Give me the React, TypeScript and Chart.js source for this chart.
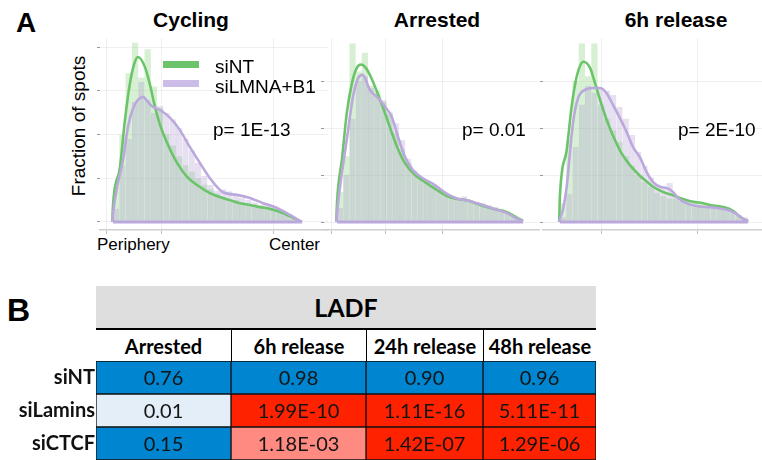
import React, { useEffect, useRef } from "react";
import { Chart, registerables } from "chart.js";
Chart.register(...registerables);

// ---------------- Panel A data ----------------
const seriesNames = ["siNT", "siLMNA+B1"];
const panelTitles = ["Cycling", "Arrested", "6h release"];
const panelPValues = ["p= 1E-13", "p= 0.01", "p= 2E-10"];
const xAxisLabels = ["Periphery", "Center"];
const yAxisTitle = "Fraction of spots";

// histogram bar heights (30 radial bins, periphery -> center)
const cyclingSiNTBars = [0.8, 2.0, 3.4, 4.1, 3.3, 3.95, 3.1, 2.6, 2.0, 1.75, 1.5, 1.3, 1.15, 1.0, 0.85, 0.75, 0.65, 0.58, 0.52, 0.5, 0.45, 0.42, 0.4, 0.36, 0.3, 0.28, 0.22, 0.15, 0.1, 0.05];
const cyclingSiLMNABars = [0.3, 1.3, 1.9, 2.75, 3.2, 2.8, 2.5, 2.65, 2.5, 2.35, 2.15, 1.9, 1.65, 1.35, 1.05, 0.85, 0.72, 0.75, 0.7, 0.6, 0.55, 0.5, 0.45, 0.4, 0.42, 0.35, 0.3, 0.2, 0.12, 0.05];
const arrestedSiNTBars = [0.64, 1.4, 3.8, 3.2, 3.6, 2.9, 2.8, 2.55, 2.3, 1.9, 1.55, 1.25, 1.05, 0.95, 0.85, 0.78, 0.68, 0.6, 0.52, 0.5, 0.47, 0.45, 0.42, 0.4, 0.36, 0.32, 0.28, 0.22, 0.15, 0.08];
const arrestedSiLMNABars = [0.3, 1.0, 2.2, 3.0, 3.1, 2.85, 2.7, 2.6, 2.35, 2.1, 1.75, 1.35, 1.1, 0.95, 0.85, 0.78, 0.7, 0.55, 0.5, 0.48, 0.55, 0.45, 0.42, 0.38, 0.33, 0.28, 0.25, 0.2, 0.13, 0.07];
const releaseSiNTBars = [0.4, 1.75, 3.0, 3.8, 3.1, 3.8, 2.5, 2.2, 1.95, 1.7, 1.4, 1.2, 1.0, 0.85, 0.75, 0.62, 0.55, 0.5, 0.5, 0.45, 0.42, 0.4, 0.4, 0.38, 0.35, 0.32, 0.28, 0.22, 0.12, 0.05];
const releaseSiLMNABars = [0.1, 0.6, 1.6, 2.5, 2.9, 2.75, 2.85, 2.8, 2.7, 2.45, 2.2, 1.85, 1.5, 1.2, 0.95, 0.8, 0.72, 0.83, 0.55, 0.45, 0.38, 0.35, 0.33, 0.33, 0.32, 0.28, 0.25, 0.2, 0.15, 0.1];

// density curves
const cyclingSiNTCurveX = [0, 0.037, 0.063, 0.09, 0.111, 0.132, 0.169, 0.196, 0.222, 0.249, 0.286, 0.339, 0.392, 0.46, 0.513, 0.566, 0.619, 0.672, 0.725, 0.778, 0.831, 0.884, 0.937, 1];
const cyclingSiNTCurveY = [0.39, 1.26, 2.33, 3.18, 3.6, 3.77, 3.54, 3.13, 2.63, 2.22, 1.81, 1.35, 1.03, 0.8, 0.66, 0.57, 0.5, 0.43, 0.39, 0.34, 0.3, 0.23, 0.13, 0];
const cyclingSiLMNACurveX = [0, 0.026, 0.053, 0.079, 0.106, 0.132, 0.159, 0.185, 0.212, 0.249, 0.302, 0.354, 0.407, 0.46, 0.513, 0.582, 0.656, 0.725, 0.794, 0.868, 0.937, 1];
const cyclingSiLMNACurveY = [0.2, 0.89, 1.42, 2.17, 2.6, 2.79, 2.86, 2.74, 2.63, 2.56, 2.38, 2.1, 1.71, 1.35, 1.0, 0.68, 0.62, 0.55, 0.43, 0.32, 0.16, 0];

const arrestedSiNTCurveX = [0, 0.027, 0.052, 0.08, 0.105, 0.13, 0.155, 0.18, 0.218, 0.255, 0.29, 0.328, 0.366, 0.419, 0.473, 0.538, 0.591, 0.645, 0.699, 0.753, 0.806, 0.86, 0.914, 0.959, 1];
const arrestedSiNTCurveY = [0.42, 1.35, 2.3, 2.95, 3.27, 3.35, 3.28, 3.1, 2.74, 2.35, 1.95, 1.55, 1.25, 1.0, 0.85, 0.68, 0.55, 0.49, 0.46, 0.39, 0.32, 0.26, 0.21, 0.11, 0.02];
const arrestedSiLMNACurveX = [0, 0.016, 0.052, 0.086, 0.113, 0.138, 0.177, 0.22, 0.258, 0.294, 0.328, 0.366, 0.409, 0.462, 0.52, 0.591, 0.645, 0.699, 0.753, 0.806, 0.86, 0.914, 0.968, 1];
const arrestedSiLMNACurveY = [0.18, 0.75, 1.74, 2.67, 3.06, 3.13, 2.81, 2.64, 2.45, 2.24, 1.81, 1.38, 1.1, 0.93, 0.8, 0.6, 0.5, 0.46, 0.4, 0.33, 0.26, 0.19, 0.07, 0.02];

const releaseSiNTCurveX = [0, 0.036, 0.062, 0.089, 0.124, 0.16, 0.186, 0.222, 0.255, 0.293, 0.328, 0.372, 0.426, 0.461, 0.495, 0.548, 0.601, 0.654, 0.707, 0.761, 0.814, 0.867, 0.92, 0.957, 0.984, 1];
const releaseSiNTCurveY = [0.55, 1.53, 2.45, 3.09, 3.41, 3.28, 2.96, 2.49, 2.1, 1.74, 1.46, 1.21, 0.98, 0.86, 0.75, 0.64, 0.57, 0.49, 0.43, 0.4, 0.35, 0.32, 0.24, 0.11, 0.04, 0];
const releaseSiLMNACurveX = [0, 0.016, 0.036, 0.053, 0.069, 0.096, 0.133, 0.176, 0.213, 0.248, 0.282, 0.319, 0.355, 0.388, 0.426, 0.461, 0.495, 0.532, 0.568, 0.601, 0.628, 0.674, 0.727, 0.78, 0.834, 0.887, 0.931, 0.966, 1];
const releaseSiLMNACurveY = [0.07, 0.26, 0.75, 1.46, 2.1, 2.63, 2.81, 2.85, 2.85, 2.74, 2.49, 2.21, 1.91, 1.6, 1.37, 1.06, 0.85, 0.75, 0.72, 0.64, 0.51, 0.4, 0.34, 0.32, 0.3, 0.26, 0.19, 0.09, 0.02];

// ---------------- Panel B data ----------------
const tableTitle = "LADF";
const tableColumns = ["Arrested", "6h release", "24h release", "48h release"];
const tableRows = ["siNT", "siLamins", "siCTCF"];
const siNTPValues = [0.76, 0.98, 0.9, 0.96];
const siLaminsPValues = [0.01, 1.99e-10, 1.11e-16, 5.11e-11];
const siCTCFPValues = [0.15, 1.18e-3, 1.42e-7, 1.29e-6];

// ---------------- styling / layout ----------------
const ARIAL = '"Liberation Sans", Arial, Helvetica, sans-serif';
const LATO = 'Lato, "Noto Sans", sans-serif';
const GREEN_LINE = "#6cc46a";
const PURPLE_LINE = "#bba8dd";
const GREEN_FILL = "rgba(112,202,98,0.28)";
const PURPLE_FILL = "rgba(172,152,205,0.30)";
const PURPLE_EDGE = "rgba(170,150,212,0.35)";
const GRID = "rgba(0,0,0,0.06)";

const PANEL_TOP = 38;
const PANEL_H = 196;
const tableColumnWidths = [135, 135, 117, 113];

const panels = [
  {
    title: panelTitles[0], p: panelPValues[0], titleX: 191, pX: 213,
    green: cyclingSiNTBars, purple: cyclingSiLMNABars,
    gx: cyclingSiNTCurveX, gy: cyclingSiNTCurveY, px: cyclingSiLMNACurveX, py: cyclingSiLMNACurveY,
    left: 97, width: 231, xMin: -0.069, xMax: 1.138, xTicks: [-0.037, 0.259, 0.852],
    yMin: -0.183, yMax: 4.206, yTicks: [0, 1, 2, 3, 4],
  },
  {
    title: panelTitles[1], p: panelPValues[1], titleX: 437, pX: 462,
    green: arrestedSiNTBars, purple: arrestedSiLMNABars,
    gx: arrestedSiNTCurveX, gy: arrestedSiNTCurveY, px: arrestedSiLMNACurveX, py: arrestedSiLMNACurveY,
    left: 321, width: 219, xMin: -0.07, xMax: 1.091, xTicks: [-0.032, 0.263, 0.565],
    yMin: -0.17, yMax: 3.915, yTicks: [0, 1, 2, 3],
  },
  {
    title: panelTitles[2], p: panelPValues[2], titleX: 676, pX: 678,
    green: releaseSiNTBars, purple: releaseSiLMNABars,
    gx: releaseSiNTCurveX, gy: releaseSiNTCurveY, px: releaseSiLMNACurveX, py: releaseSiLMNACurveY,
    left: 540, width: 222, xMin: -0.09, xMax: 1.074, xTicks: [0.223, 0.729],
    yMin: -0.17, yMax: 3.915, yTicks: [0, 1, 2, 3],
  },
];

function barPoints(vals: number[]) {
  return vals.map((v, i) => ({ x: (i + 0.5) / vals.length, y: v }));
}
function curvePoints(xs: number[], ys: number[]) {
  const pts = xs.map((x, i) => ({ x, y: ys[i] }));
  return [{ x: xs[0] - 0.004, y: 0 }, ...pts];
}

function HistPanel({ cfg }: { cfg: any }) {
  const ref = useRef<HTMLCanvasElement>(null);
  useEffect(() => {
    const chart = new Chart(ref.current as HTMLCanvasElement, {
      type: "bar",
      data: {
        datasets: [
          {
            type: "line", label: seriesNames[1], data: curvePoints(cfg.px, cfg.py),
            borderColor: PURPLE_LINE, borderWidth: 2.6, pointRadius: 0, fill: false,
            cubicInterpolationMode: "monotone", order: 0,
          } as any,
          {
            type: "line", label: "baseline", data: [{ x: 0, y: 0 }, { x: 1, y: 0 }],
            borderColor: PURPLE_LINE, borderWidth: 3, pointRadius: 0, fill: false, order: 0,
          } as any,
          {
            type: "line", label: seriesNames[0], data: curvePoints(cfg.gx, cfg.gy),
            borderColor: GREEN_LINE, borderWidth: 2.6, pointRadius: 0, fill: false,
            cubicInterpolationMode: "monotone", order: 1,
          } as any,
          {
            type: "bar", label: seriesNames[1] + " bins", data: barPoints(cfg.purple),
            backgroundColor: PURPLE_FILL, borderColor: PURPLE_EDGE,
            borderWidth: { left: 1, right: 0, top: 0, bottom: 0 }, borderSkipped: false,
            inflateAmount: 0,
            grouped: false, barPercentage: 1, categoryPercentage: 1, order: 2,
          } as any,
          {
            type: "bar", label: seriesNames[0] + " bins", data: barPoints(cfg.green),
            backgroundColor: GREEN_FILL, borderWidth: 0, inflateAmount: 0,
            grouped: false, barPercentage: 1, categoryPercentage: 1, order: 3,
          } as any,
        ],
      },
      options: {
        animation: false,
        responsive: false,
        maintainAspectRatio: false,
        layout: { padding: 0 },
        plugins: { legend: { display: false }, tooltip: { enabled: false }, title: { display: false } },
        scales: {
          x: {
            type: "linear", min: cfg.xMin, max: cfg.xMax, offset: false,
            afterBuildTicks: (s: any) => { s.ticks = cfg.xTicks.map((v: number) => ({ value: v })); },
            ticks: { display: false },
            grid: { color: GRID, offset: false, drawTicks: true, tickLength: 4, tickColor: "#bdbdbd" },
            border: { display: true, color: "#cfcfcf", width: 1.5 },
          },
          y: {
            type: "linear", min: cfg.yMin, max: cfg.yMax,
            afterBuildTicks: (s: any) => { s.ticks = cfg.yTicks.map((v: number) => ({ value: v })); },
            ticks: { display: false },
            grid: { color: GRID, drawTicks: true, tickLength: 3, tickColor: "#9a9a9a" },
            border: { display: false },
          },
        },
      } as any,
    });
    return () => chart.destroy();
  }, []);
  return (
    <canvas
      ref={ref}
      width={cfg.width}
      height={PANEL_H}
      style={{ position: "absolute", left: cfg.left, top: PANEL_TOP, width: cfg.width, height: PANEL_H }}
    />
  );
}

function fmtP(p: number) {
  if (p >= 0.01) return p.toFixed(2);
  const [m, e] = p.toExponential(2).split("e");
  const n = parseInt(e, 10);
  return m + "E" + (n < 0 ? "-" : "+") + String(Math.abs(n)).padStart(2, "0");
}
function pColor(p: number) {
  if (p >= 0.05) return "#0085d0";
  if (p >= 0.01) return "#e3eef8";
  if (p >= 1e-4) return "#ff8a82";
  return "#ff2200";
}

function PTable() {
  const ref = useRef<HTMLCanvasElement>(null);
  useEffect(() => {
    const matrix = [siNTPValues, siLaminsPValues, siCTCFPValues];
    const edges: number[] = [0];
    tableColumnWidths.forEach((w, i) => edges.push(edges[i] + w));
    const cellText = {
      id: "cellText",
      afterDatasetsDraw(chart: any) {
        const ctx = chart.ctx;
        ctx.save();
        ctx.font = `20px ${LATO}`;
        ctx.fillStyle = "#141414";
        ctx.textAlign = "center";
        ctx.textBaseline = "middle";
        chart.data.datasets.forEach((_: any, j: number) => {
          const meta = chart.getDatasetMeta(j);
          meta.data.forEach((el: any, i: number) => {
            const { x, base, y } = el.getProps(["x", "base", "y"], true);
            ctx.fillText(fmtP(matrix[i][j]), (x + base) / 2, y + 1);
          });
        });
        ctx.restore();
      },
    };
    const chart = new Chart(ref.current as HTMLCanvasElement, {
      type: "bar",
      data: {
        labels: tableRows,
        datasets: tableColumns.map((col, j) => ({
          label: col,
          data: tableRows.map(() => [edges[j], edges[j + 1]]),
          backgroundColor: matrix.map((row) => pColor(row[j])),
          borderColor: "#111",
          borderWidth: 1,
          borderSkipped: false,
          grouped: false,
          barPercentage: 1,
          categoryPercentage: 1,
        })) as any,
      },
      options: {
        indexAxis: "y",
        animation: false,
        responsive: false,
        maintainAspectRatio: false,
        layout: { padding: 0 },
        plugins: { legend: { display: false }, tooltip: { enabled: false } },
        scales: {
          x: { type: "linear", min: 0, max: edges[edges.length - 1], display: false },
          y: {
            type: "category",
            afterFit: (s: any) => {
              s.width = 96;
              s.paddingTop = 0;
              s.paddingBottom = 0;
            },
            ticks: { color: "#111", padding: 1, font: { family: LATO, size: 20, weight: "bold" } },
            grid: { display: false, drawTicks: false },
            border: { display: false },
          },
        },
      } as any,
      plugins: [cellText],
    });
    return () => chart.destroy();
  }, []);
  return (
    <canvas ref={ref} width={596} height={99}
      style={{ position: "absolute", left: 0, top: 361, width: 596, height: 99 }} />
  );
}

function Txt(props: { x: number; base: number; size: number; bold?: boolean; center?: boolean; family?: string; children: any }) {
  const fam = props.family || ARIAL;
  const k = fam === LATO ? 0.887 : 0.8465;
  return (
    <div
      style={{
        position: "absolute",
        left: props.x,
        top: props.base - k * props.size,
        fontFamily: fam,
        fontSize: props.size,
        lineHeight: `${props.size}px`,
        fontWeight: props.bold ? 700 : 400,
        whiteSpace: "nowrap",
        color: "#000",
        transform: props.center ? "translateX(-50%)" : undefined,
      }}
    >
      {props.children}
    </div>
  );
}

export default function App() {
  let acc = 96;
  const colLefts = tableColumnWidths.map((w) => { const l = acc; acc += w; return l; });
  return (
    <div style={{ position: "absolute", left: 0, top: 0, width: 762, height: 460, overflow: "hidden", background: "#fff" }}>
      {panels.map((p, i) => <HistPanel key={i} cfg={p} />)}
      <Txt x={16} base={33} size={28} bold>A</Txt>
      {panels.map((p, i) => (
        <Txt key={"t" + i} x={p.titleX} base={27} size={21} bold center>{p.title}</Txt>
      ))}
      {panels.map((p, i) => (
        <Txt key={"p" + i} x={p.pX} base={136} size={19}>{p.p}</Txt>
      ))}
      <div style={{ position: "absolute", left: 163, top: 61, width: 36, height: 7, background: GREEN_LINE }} />
      <div style={{ position: "absolute", left: 163, top: 80, width: 36, height: 7, background: "#cbbde8" }} />
      <Txt x={215} base={73} size={19}>{seriesNames[0]}</Txt>
      <Txt x={215} base={93} size={19}>{seriesNames[1]}</Txt>
      <div
        style={{
          position: "absolute", left: 78, top: 126, transform: "translate(-50%,-50%) rotate(-90deg)",
          fontFamily: ARIAL, fontSize: 19, lineHeight: "19px", whiteSpace: "nowrap", color: "#000",
        }}
      >
        {yAxisTitle}
      </div>
      <Txt x={97} base={250} size={17}>{xAxisLabels[0]}</Txt>
      <Txt x={269} base={250} size={17}>{xAxisLabels[1]}</Txt>

      <Txt x={7} base={321} size={32} bold>B</Txt>
      <div
        style={{
          position: "absolute", left: 96, top: 286, width: 500, height: 42, background: "#dedede",
          display: "flex", alignItems: "center", justifyContent: "center",
          fontFamily: LATO, fontWeight: 700, fontSize: 25, lineHeight: "25px", color: "#000",
        }}
      >
        {tableTitle}
      </div>
      <div style={{ position: "absolute", left: 96, top: 328, width: 500, height: 2, background: "#000" }} />
      {tableColumns.map((c, j) => (
        <div
          key={c}
          style={{
            position: "absolute", left: colLefts[j], top: 330, width: tableColumnWidths[j], height: 31,
            boxSizing: "border-box", borderLeft: j > 0 ? "1.5px solid #000" : "none",
            display: "flex", alignItems: "center", justifyContent: "center",
            fontFamily: LATO, fontWeight: 700, fontSize: 20, lineHeight: "20px", color: "#000",
          }}
        >
          {c}
        </div>
      ))}
      <PTable />
    </div>
  );
}
